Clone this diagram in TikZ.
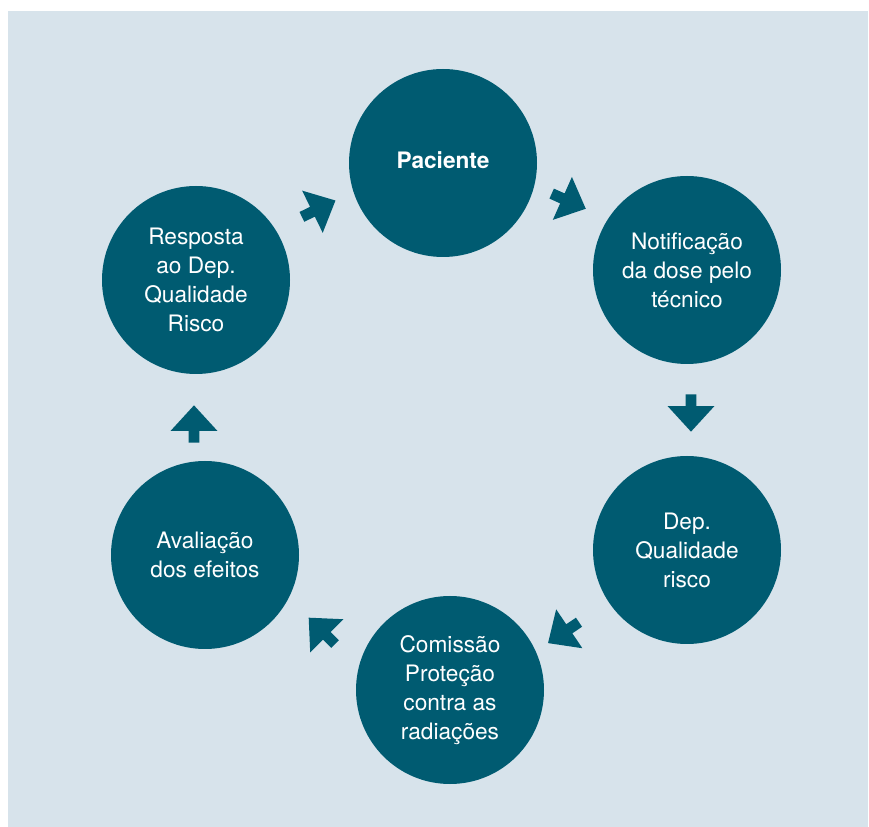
\documentclass[tikz,border=0pt]{standalone}
\usepackage{fontspec}
\setmainfont{TeX Gyre Heros}
\usepackage{tikz}
\usetikzlibrary{shapes.arrows}

\definecolor{panelbg}{RGB}{215,227,235}
\definecolor{petrol}{RGB}{0,91,113}

\begin{document}
\begin{tikzpicture}[
    x=0.75pt, y=-0.75pt,
    stage/.style={circle, fill=petrol, minimum size=141pt, inner sep=0pt, text=white, align=center, font=\fontsize{17}{21.75}\selectfont},
    flow/.style={single arrow, fill=petrol, draw=none, inner sep=3.9pt, outer sep=0pt, minimum height=28pt, single arrow head extend=13.5pt, single arrow tip angle=85}
]

% Page and panel
\useasboundingbox (0,0) rectangle (869,827);
\fill[panelbg] (8,11) rectangle (868,827);

% Cycle stages
\node[stage] (pac) at (443,163) {\raisebox{4pt}{\textbf{Paciente}}};
\node[stage] (notif) at (687,270) {Notificação\\da dose pelo\\técnico};
\node[stage] (risk) at (687,550) {Dep.\\Qualidade\\risco};
\node[stage] (com) at (450,690) {Comissão\\Proteção\\contra as\\radiações};
\node[stage] (aval) at (205,555) {Avaliação\\dos efeitos};
\node[stage] (resp) at (196,280) {Resposta\\ao Dep.\\Qualidade\\Risco};

% Block arrows between stages
\node[flow, rotate=-24] (a1) at (566,200) {};
\node[flow, rotate=-90] (a2) at (691,410) {};
\node[flow, rotate=-146] (a3) at (566,631) {};
\node[flow, rotate=135] (a4) at (324,633) {};
\node[flow, rotate=90] (a5) at (194,427) {};
\node[flow, rotate=26] (a6) at (316,210) {};

\end{tikzpicture}
\end{document}
